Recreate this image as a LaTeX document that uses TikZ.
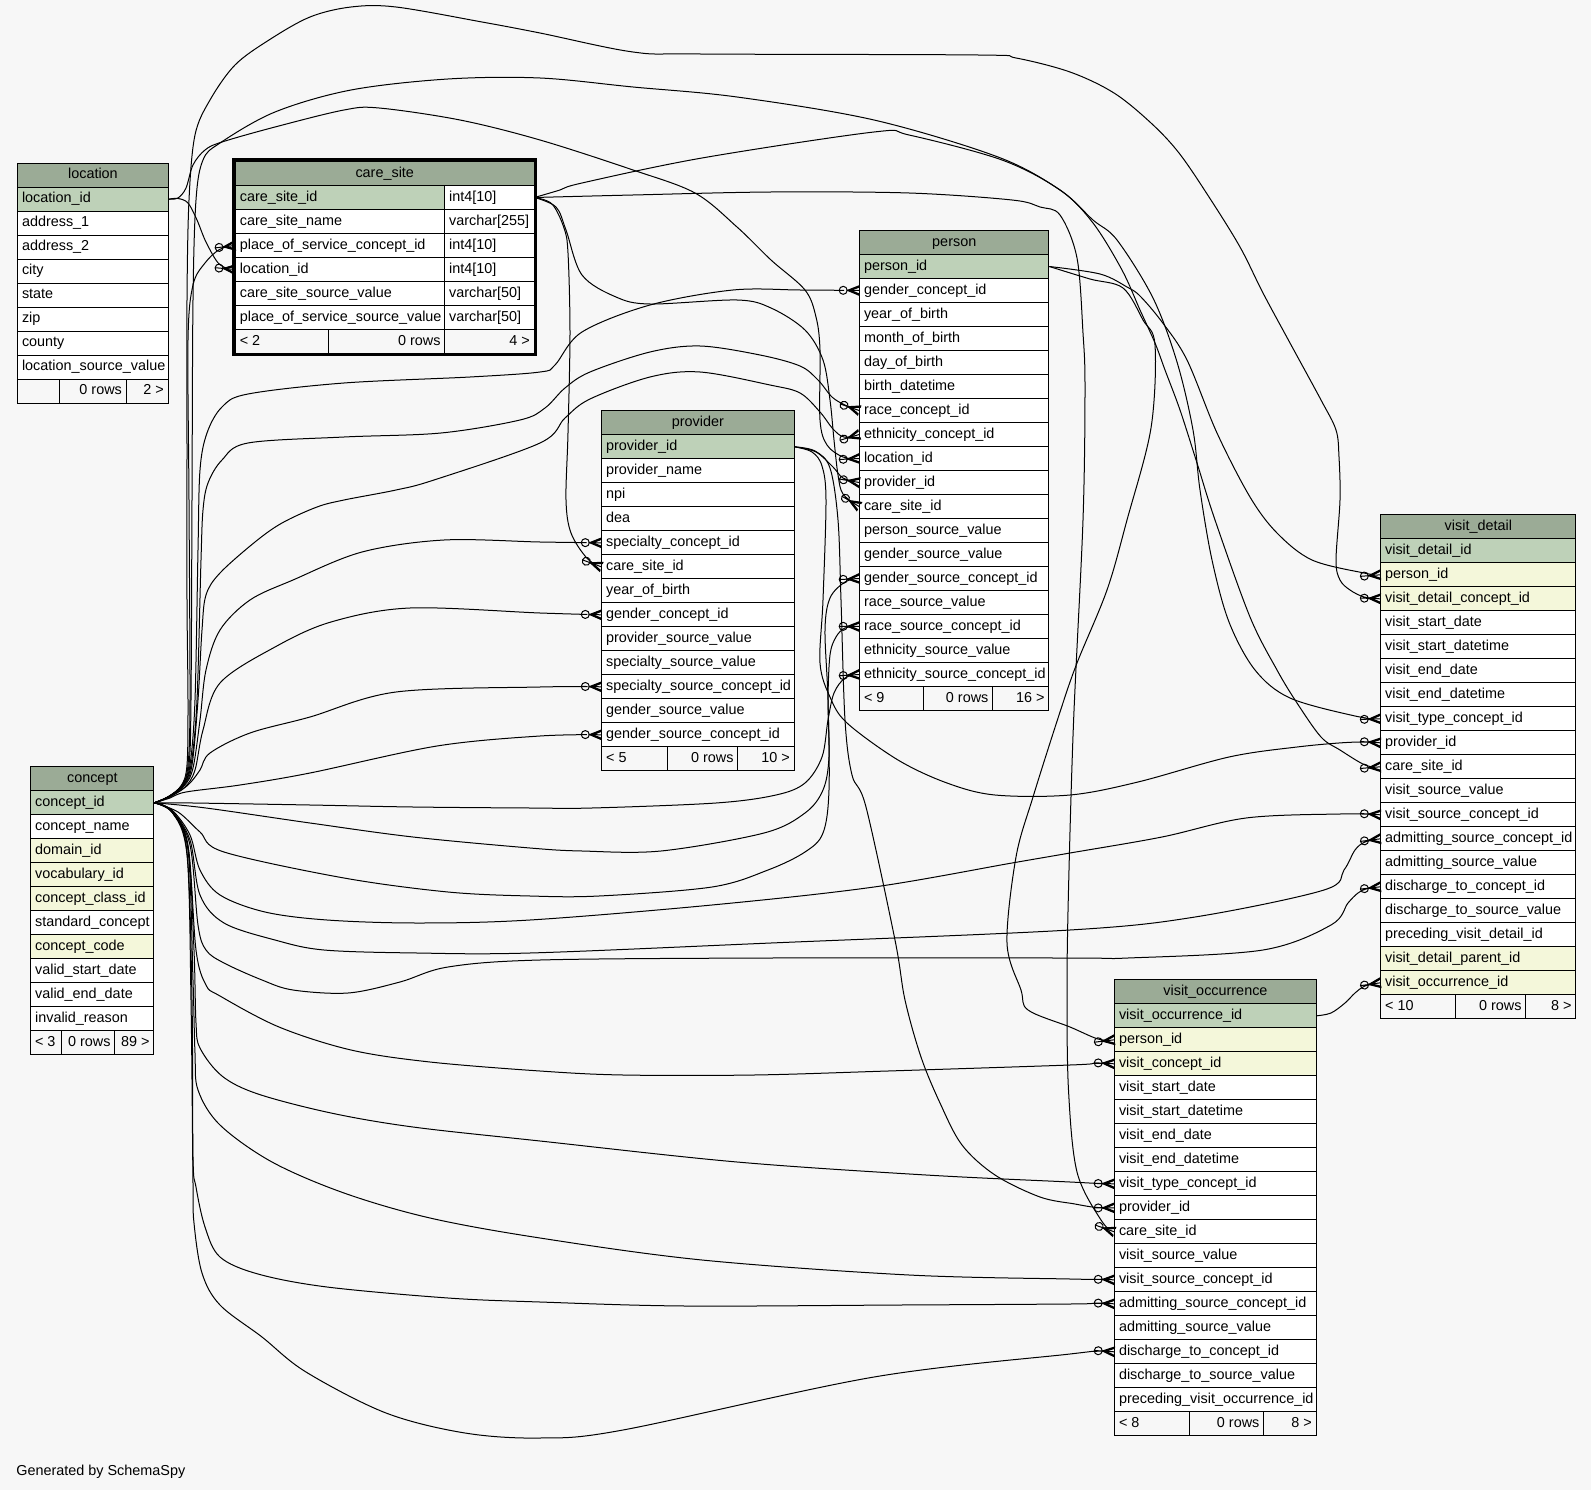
\documentclass[tikz,border=0pt]{standalone}
\usepackage{fontspec}
\setmainfont{Liberation Sans}
\usetikzlibrary{arrows.meta}
\definecolor{bgc}{HTML}{F7F7F7}
\definecolor{headc}{HTML}{9BAB96}
\definecolor{pkc}{HTML}{BED1B8}
\definecolor{fkc}{HTML}{F4F7DA}
\definecolor{whc}{HTML}{FFFFFF}
\newcommand\tf{\fontsize{14.4pt}{17pt}\selectfont}

\pgfdeclarearrow{
  name = CrowO,
  setup code = {
    \pgfarrowssettipend{0pt}
    \pgfarrowssetlineend{-20pt}
    \pgfarrowssetbackend{-20pt}
    \pgfarrowssetvisualbackend{-20pt}
    \pgfarrowshullpoint{0pt}{5pt}
    \pgfarrowshullpoint{0pt}{-5pt}
    \pgfarrowshullpoint{-20pt}{4pt}
    \pgfarrowshullpoint{-20pt}{-4pt}
  },
  drawing code = {
    \pgfsetdash{}{0pt}
    \pgfsetmiterjoin
    \pgfpathmoveto{\pgfqpoint{0pt}{4.8pt}}
    \pgfpathlineto{\pgfqpoint{-11.8pt}{0pt}}
    \pgfpathlineto{\pgfqpoint{0pt}{-4.8pt}}
    \pgfpathlineto{\pgfqpoint{0pt}{-3.4pt}}
    \pgfpathlineto{\pgfqpoint{-8.5pt}{0pt}}
    \pgfpathlineto{\pgfqpoint{0pt}{3.4pt}}
    \pgfpathclose
    \pgfusepathqfillstroke
    \pgfpathmoveto{\pgfqpoint{-11.8pt}{0pt}}
    \pgfpathlineto{\pgfqpoint{0pt}{0pt}}
    \pgfusepathqstroke
    \pgfpathcircle{\pgfqpoint{-16pt}{0pt}}{4pt}
    \pgfusepathqstroke
  }
}

\tikzset{
  cell/.style={draw=black, line width=1pt, anchor=north west, inner xsep=4.3pt,
    inner ysep=0pt, minimum height=24pt, text height=10.5pt, text depth=3pt, font=\tf},
  edge/.style={draw=black, line width=1pt, -CrowO},
  spline/.style={smooth, tension=0.55}
}

% prefix, title, x, top, width, rows
\newcommand\mktable[6]{%
  \pgfmathsetmacro\tw{#5-8.6}%
  \node[cell, fill=headc, minimum width=#5pt] (#1) at (#3,#4) {\makebox[\tw pt][c]{#2}};
  \foreach \col/\clr [count=\rr from 0] in {#6} {
    \node[cell, fill=\clr, minimum width=#5pt] (#1-\col) at (#3,#4+24+24*\rr) {\makebox[\tw pt][l]{\col}};
  }
}
% prefix, y, x0, x1, x2, x3, left, mid, right
\newcommand\mkfoot[9]{%
  \pgfmathsetmacro\wa{#4-#3}\pgfmathsetmacro\wb{#5-#4}\pgfmathsetmacro\wc{#6-#5}%
  \pgfmathsetmacro\ta{\wa-8.6}\pgfmathsetmacro\tb{\wb-8.6}\pgfmathsetmacro\tc{\wc-8.6}%
  \node[cell, fill=bgc, minimum width=\wa pt] (#1-fa) at (#3,#2) {\makebox[\ta pt][l]{#7}};
  \node[cell, fill=bgc, minimum width=\wb pt] (#1-fb) at (#4,#2) {\makebox[\tb pt][r]{#8}};
  \node[cell, fill=bgc, minimum width=\wc pt] (#1-fc) at (#5,#2) {\makebox[\tc pt][r]{#9}};
}

\begin{document}
\catcode`\_=12
\begin{tikzpicture}[x=1pt,y=-1pt]
\useasboundingbox (0,0) rectangle (1591,1490);
\fill[bgc] (0,0) rectangle (1591,1490);

% ---------- tables ----------
\mktable{loc}{location}{17.2}{162.7}{150.5}{location_id/pkc,address_1/whc,address_2/whc,city/whc,state/whc,zip/whc,county/whc,location_source_value/whc}
\mkfoot{loc}{378.7}{17.2}{59.2}{125.7}{167.7}{}{0 rows}{2 >}

% care_site (two columns)
\node[cell, fill=headc, minimum width=298.5pt] (cs) at (235,161) {\makebox[289.9pt][c]{care_site}};
\foreach \col/\typ/\clr [count=\rr from 0] in {care_site_id/{int4[10]}/pkc,care_site_name/{varchar[255]}/whc,place_of_service_concept_id/{int4[10]}/whc,location_id/{int4[10]}/whc,care_site_source_value/{varchar[50]}/whc,place_of_service_source_value/{varchar[50]}/whc} {
  \node[cell, fill=\clr, minimum width=209.3pt] (cs-\col) at (235,185+24*\rr) {\makebox[200.7pt][l]{\col}};
  \node[cell, fill=whc, minimum width=89.2pt] (cs-\col-t) at (444.3,185+24*\rr) {\makebox[80.6pt][l]{\typ}};
}
\mkfoot{cs}{329}{235}{328.2}{444.3}{533.5}{< 2}{0 rows}{4 >}
\draw[line width=3pt] (233.4,159.4) rectangle (535.1,354.6);

\mktable{per}{person}{859.2}{230}{189.1}{person_id/pkc,gender_concept_id/whc,year_of_birth/whc,month_of_birth/whc,day_of_birth/whc,birth_datetime/whc,race_concept_id/whc,ethnicity_concept_id/whc,location_id/whc,provider_id/whc,care_site_id/whc,person_source_value/whc,gender_source_value/whc,gender_source_concept_id/whc,race_source_value/whc,race_source_concept_id/whc,ethnicity_source_value/whc,ethnicity_source_concept_id/whc}
\mkfoot{per}{686}{859.2}{923.3}{992.2}{1048.3}{< 9}{0 rows}{16 >}

\mktable{prov}{provider}{601.3}{410.3}{192.2}{provider_id/pkc,provider_name/whc,npi/whc,dea/whc,specialty_concept_id/whc,care_site_id/whc,year_of_birth/whc,gender_concept_id/whc,provider_source_value/whc,specialty_source_value/whc,specialty_source_concept_id/whc,gender_source_value/whc,gender_source_concept_id/whc}
\mkfoot{prov}{746.3}{601.3}{667.4}{737.3}{793.5}{< 5}{0 rows}{10 >}

\mktable{con}{concept}{30.3}{766.3}{123}{concept_id/pkc,concept_name/whc,domain_id/fkc,vocabulary_id/fkc,concept_class_id/fkc,standard_concept/whc,concept_code/fkc,valid_start_date/whc,valid_end_date/whc,invalid_reason/whc}
\mkfoot{con}{1030.3}{30.3}{61.3}{114.3}{153.3}{< 3}{0 rows}{89 >}

\mktable{vd}{visit_detail}{1380.3}{514.3}{195.1}{visit_detail_id/pkc,person_id/fkc,visit_detail_concept_id/fkc,visit_start_date/whc,visit_start_datetime/whc,visit_end_date/whc,visit_end_datetime/whc,visit_type_concept_id/whc,provider_id/whc,care_site_id/whc,visit_source_value/whc,visit_source_concept_id/whc,admitting_source_concept_id/whc,admitting_source_value/whc,discharge_to_concept_id/whc,discharge_to_source_value/whc,preceding_visit_detail_id/whc,visit_detail_parent_id/fkc,visit_occurrence_id/fkc}
\mkfoot{vd}{994.3}{1380.3}{1455.2}{1525.3}{1575.4}{< 10}{0 rows}{8 >}

\mktable{vo}{visit_occurrence}{1114.2}{979.3}{201.5}{visit_occurrence_id/pkc,person_id/fkc,visit_concept_id/fkc,visit_start_date/whc,visit_start_datetime/whc,visit_end_date/whc,visit_end_datetime/whc,visit_type_concept_id/whc,provider_id/whc,care_site_id/whc,visit_source_value/whc,visit_source_concept_id/whc,admitting_source_concept_id/whc,admitting_source_value/whc,discharge_to_concept_id/whc,discharge_to_source_value/whc,preceding_visit_occurrence_id/whc}
\mkfoot{vo}{1411.3}{1114.2}{1189.4}{1263.2}{1315.7}{< 8}{0 rows}{8 >}

\node[anchor=base west, inner sep=0pt, font=\tf] (gen) at (16.2,1475) {Generated by SchemaSpy};

% ---------- edges from concept ----------
\draw[edge] plot[spline] coordinates {(con-concept_id.east) (168,797) (181,786) (187,765) (188,700) (187,600) (187,450) (187,300) (189,200) (195,135) (210,100) (235,65) (269,40) (310,17) (351,7) (396,7) (482,22) (540,33) (633,52) (700,54) (978,55) (1016,58) (1070,72) (1114,93) (1151,123) (1179,153) (1209,197) (1240,247) (1263,293) (1290,343) (1321,400) (1336,430) (1339,457) (1340,500) (1336,560) (1340,580) (1350,590) (1364,597) (vd-visit_detail_concept_id.west)};
\draw[edge] plot[spline] coordinates {(con-concept_id.east) (168,797) (182,785) (189,765) (191,700) (192,500) (193,300) (196,200) (203,160) (220,143) (275,112) (351,90) (448,79) (540,78) (633,87) (737,97) (874,120) (998,157) (1060,190) (1093,220) (1117,240) (1153,298) (1177,362) (1193,430) (1200,490) (1212,560) (1229,622) (1255,670) (1290,698) (1355,716) (vd-visit_type_concept_id.west)};
\draw[edge] plot[spline] coordinates {(con-concept_id.east) (168,797) (182,785) (188,765) (190,700) (189,500) (188,340) (193,285) (205,263) (219.5,249.5) (cs-place_of_service_concept_id.west)};
\draw[edge] plot[spline] coordinates {(con-concept_id.east) (168,797) (183,785) (190,765) (195,700) (198,550) (200,470) (207,433) (222,407) (248,394) (344,383) (470,377) (540,372) (555,365) (582,332) (650,305) (733,290) (800,290) (per-gender_concept_id.west)};
\draw[edge] plot[spline] coordinates {(con-concept_id.east) (168,797) (183,785) (191,765) (197,700) (201,560) (203,510) (208,483) (222,460) (248,443) (344,437) (441,433) (520,420) (545,408) (565,388) (590,372) (650,352) (700,346) (760,355) (800,366) (818,380) (832,397) (845,405) (per-race_concept_id.west)};
\draw[edge] plot[spline] coordinates {(con-concept_id.east) (168,797) (184,785) (192,765) (198,700) (202,630) (206,595) (220,573) (255,542) (282,523) (317,507) (344,500) (396,490) (434,480) (540,443) (565,418) (590,399) (650,377) (700,372) (770,385) (800,393) (820,412) (833,429) (844,437) (per-ethnicity_concept_id.west)};
\draw[edge] plot[spline] coordinates {(con-concept_id.east) (168,797) (184,786) (193,768) (200,720) (206,670) (220,630) (250,600) (293,580) (362,552) (444,540) (540,542) (prov-specialty_concept_id.west)};
\draw[edge] plot[spline] coordinates {(con-concept_id.east) (168,797) (185,787) (195,770) (203,730) (220,683) (275,647) (331,622) (410,608) (540,613) (prov-gender_concept_id.west)};
\draw[edge] plot[spline] coordinates {(con-concept_id.east) (170,797) (188,785) (200,770) (210,753) (250,733) (310,717) (396,692) (540,687) (prov-specialty_source_concept_id.west)};
\draw[edge] plot[spline] coordinates {(con-concept_id.east) (170,798) (186,792) (240,785) (310,773) (437,746) (540,736) (prov-gender_source_concept_id.west)};
\draw[edge] plot[spline] coordinates {(con-concept_id.east) (193,803) (310,805) (413,807) (530,808) (592,808) (716,803) (776,795) (805,783) (822,757) (828,720) (834,693) (845,678) (per-ethnicity_source_concept_id.west)};
\draw[edge] plot[spline] coordinates {(con-concept_id.east) (206,808) (310,823) (413,837) (530,848) (582,851) (661,851) (764,833) (805,813) (823,790) (829,757) (828,700) (830,655) (836,637) (845,628) (per-race_source_concept_id.west)};
\draw[edge] plot[spline] coordinates {(con-concept_id.east) (178,812) (200,832) (224,852) (344,878) (448,892) (530,896) (599,896) (712,887) (768,870) (805,852) (823,833) (829,790) (828,700) (825,630) (830,598) (845,582) (per-gender_source_concept_id.west)};
\draw[edge] plot[spline] coordinates {(con-concept_id.east) (172,810) (190,835) (200,870) (220,895) (265,912) (327,920) (417,923) (530,920) (712,905) (874,887) (1012,863) (1070,853) (1162,837) (1246,818) (1340,814) (vd-visit_source_concept_id.west)};
\draw[edge] plot[spline] coordinates {(con-concept_id.east) (172,811) (190,840) (200,895) (224,923) (275,940) (324,950) (417,953) (530,953) (771,943) (1070,930) (1195,917) (1324,890) (1344,870) (1355,850) (1365,842) (vd-admitting_source_concept_id.west)};
\draw[edge] plot[spline] coordinates {(con-concept_id.east) (172,812) (190,845) (198,925) (206,950) (224,963) (262,980) (293,990) (348,993) (400,982) (448,967) (540,960) (771,958) (1070,958) (1128,958) (1263,950) (1331,925) (1348,903) (1358,893) (1366,889) (vd-discharge_to_concept_id.west)};
\draw[edge] plot[spline] coordinates {(con-concept_id.east) (172,812) (188,845) (196,950) (206,985) (220,996) (279,1027) (351,1050) (430,1062) (540,1071) (623,1075) (754,1075) (888,1071) (1070,1065) (1095,1063.3) (vo-visit_concept_id.west)};
\draw[edge] plot[spline] coordinates {(con-concept_id.east) (172,812) (188,848) (194,950) (196,1023) (200,1048) (222,1076) (258,1094) (331,1113) (413,1127) (540,1141) (737,1162) (926,1175) (1070,1182) (1095,1183.3) (vo-visit_type_concept_id.west)};
\draw[edge] plot[spline] coordinates {(con-concept_id.east) (172,812) (188,850) (193,980) (195,1053) (198,1090) (220,1125) (272,1162) (344,1193) (430,1218) (540,1238) (702,1260) (909,1275) (1070,1279) (1095,1279.3) (vo-visit_source_concept_id.west)};
\draw[edge] plot[spline] coordinates {(con-concept_id.east) (172,812) (187,852) (192,1000) (193,1157) (196,1187) (205,1227) (220,1257) (258,1274) (327,1287) (448,1298) (540,1302) (685,1306) (900,1305) (1070,1304) (1095,1303.3) (vo-admitting_source_concept_id.west)};
\draw[edge] plot[spline] coordinates {(con-concept_id.east) (172,812) (187,855) (191,1000) (193,1183) (194,1223) (202,1273) (220,1305) (262,1337) (306,1372) (386,1413) (465,1433) (540,1438) (623,1430) (874,1377) (1070,1354) (1095,1351.3) (vo-discharge_to_concept_id.west)};

% ---------- edges from location ----------
\draw[edge] plot[spline] coordinates {(loc-location_id.east) (178,198.5) (188,203) (197,220) (206,242) (219.4,264.3) (cs-location_id.west)};
\draw[edge] plot[spline] coordinates {(loc-location_id.east) (178,198) (186,188) (193,165) (205,150) (222,142) (275,127) (344,110) (379,108) (460,120) (540,140) (633,170) (695,193) (737,227) (771,260) (805,290) (816,317) (820,350) (820,420) (827,445) (843,457) (per-location_id.west)};

% ---------- edges from care_site ----------
\draw[edge] plot[spline] coordinates {(cs-care_site_id-t.east) (560,190) (582,183) (702,158) (874,132) (909,135) (1002,160) (1060,190) (1093,223) (1122,270) (1140,310) (1155,343) (1165,370) (1180,410) (1197,463) (1215,520) (1250,617) (1277,670) (1297,703) (1321,737) (1340,750) (1365,765) (vd-care_site_id.west)};
\draw[edge] plot[spline] coordinates {(cs-care_site_id-t.east) (633,195) (771,192) (909,193) (1012,200) (1040,207) (1060,215) (1077,258) (1083,333) (1085,387) (1083,520) (1073.5,723) (1068.5,890) (1067,990) (1068.5,1090) (1077,1172) (1101,1220) (vo-care_site_id.west)};
\draw[edge] plot[spline] coordinates {(cs-care_site_id-t.east) (552,204) (564,228) (568,253) (570,333) (568,433) (566,500) (571,533) (586.8,558) (prov-care_site_id.west)};
\draw[edge] plot[spline] coordinates {(cs-care_site_id-t.east) (556,207) (566,230) (582,275) (616,297) (650,304) (737,300) (771,308) (805,330) (823,360) (830,400) (834,440) (838,475) (843,494) (per-care_site_id.west)};

% ---------- edges from person ----------
\draw[edge] plot[spline] coordinates {(per-person_id.east) (1100,274) (1127,287) (1140,296) (1162,322) (1187,360) (1217,433) (1250,497) (1277,533) (1312,560) (1364,573) (vd-person_id.west)};
\draw[edge] plot[spline] coordinates {(per-person_id.east) (1090,279) (1123,288) (1143,320) (1155,345) (1151,428) (1127,520) (1107,590) (1077,663) (1060,712) (1033,797) (1016,857) (1007,943) (1021,990) (1028,1010) (1070,1027) (1098,1039) (vo-person_id.west)};

% ---------- edges from provider ----------
\draw[edge] plot[spline] coordinates {(prov-provider_id.east) (816,452) (833,467) (843,478) (per-provider_id.west)};
\draw[edge] plot[spline] coordinates {(prov-provider_id.east) (812,452) (822,466) (826,500) (823,600) (820,663) (830,697) (847,723) (898,760) (947,783) (995,795) (1070,795) (1138,782) (1229,757) (1297,747) (1350,742.3) (vd-provider_id.west)};
\draw[edge] plot[spline] coordinates {(prov-provider_id.east) (815,451) (830,468) (838,520) (841,600) (845,720) (852,775) (866,807) (895,940) (905,1000) (921,1057) (940,1103) (962,1145) (995,1175) (1040,1197) (1075,1204) (1095,1207.3) (vo-provider_id.west)};

% ---------- visit_occurrence -> visit_detail ----------
\draw[edge] plot[spline] coordinates {(vo-visit_occurrence_id.east) (1331,1013) (1345,1003) (1355,993) (1365,986) (vd-visit_occurrence_id.west)};
\end{tikzpicture}
\end{document}
